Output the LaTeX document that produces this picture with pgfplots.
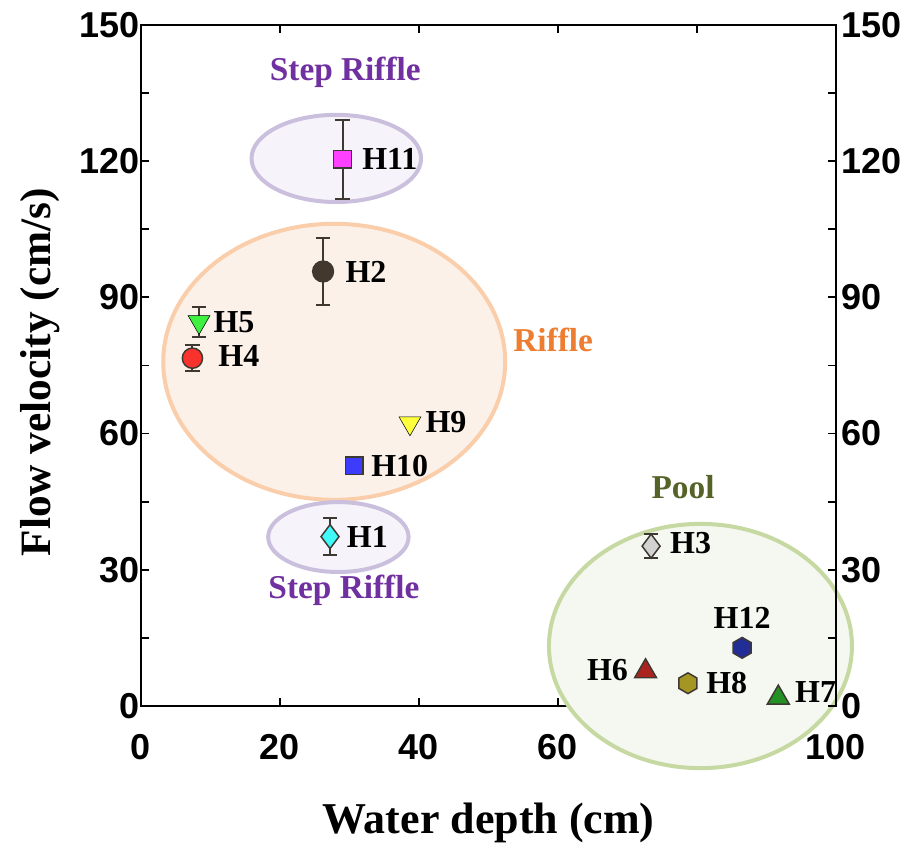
\documentclass[border=0pt]{standalone}
\usepackage{pgfplots}
\pgfplotsset{compat=1.18}
\usepackage{fontspec}
\setmainfont{Liberation Serif}
\newfontfamily\sansf{Liberation Sans}
\definecolor{sfill}{RGB}{246,244,250}
\definecolor{sdraw}{RGB}{202,192,222}
\definecolor{rfill}{RGB}{252,241,232}
\definecolor{rdraw}{RGB}{250,206,170}
\definecolor{pfill}{RGB}{245,248,240}
\definecolor{pdraw}{RGB}{198,217,162}
\definecolor{ptxt}{RGB}{112,48,160}
\definecolor{otxt}{RGB}{237,125,49}
\definecolor{gtxt}{RGB}{84,100,40}
\definecolor{edge}{RGB}{62,56,50}
\definecolor{cH11}{RGB}{255,64,255}
\definecolor{cH2}{RGB}{66,56,46}
\definecolor{cH5}{RGB}{64,240,64}
\definecolor{cH4}{RGB}{250,50,45}
\definecolor{cH9}{RGB}{255,255,60}
\definecolor{cH10}{RGB}{60,60,250}
\definecolor{cH1}{RGB}{64,250,250}
\definecolor{cH3}{RGB}{210,210,210}
\definecolor{cH12}{RGB}{35,45,150}
\definecolor{cH6}{RGB}{170,35,30}
\definecolor{cH8}{RGB}{165,150,35}
\definecolor{cH7}{RGB}{35,145,35}
\pgfdeclareplotmark{hexagon}{%
  \pgfpathmoveto{\pgfqpointpolar{90}{\pgfplotmarksize}}%
  \pgfpathlineto{\pgfqpointpolar{150}{\pgfplotmarksize}}%
  \pgfpathlineto{\pgfqpointpolar{210}{\pgfplotmarksize}}%
  \pgfpathlineto{\pgfqpointpolar{270}{\pgfplotmarksize}}%
  \pgfpathlineto{\pgfqpointpolar{330}{\pgfplotmarksize}}%
  \pgfpathlineto{\pgfqpointpolar{30}{\pgfplotmarksize}}%
  \pgfpathclose\pgfusepathqfillstroke}
\tikzset{lab/.style={font=\bfseries\fontsize{24}{24}\selectfont, inner sep=0pt},
  reg/.style={font=\bfseries\fontsize{25}{25}\selectfont, inner sep=0pt}}
\begin{document}
\begin{tikzpicture}
\pgfplotsset{
  common/.style={
    scale only axis, width=521.25pt, height=510.75pt,
    xmin=0, xmax=100, ymin=0, ymax=150,
    ytick={0,30,...,150}, minor y tick num=1,
    tick align=inside, major tick length=6pt, minor tick length=6pt,
    every tick/.style={line width=1.4pt, black},
    axis line style={line width=1.9pt},
    /pgf/number format/assume math mode=true,
    tick label style={font=\sansf\bfseries\fontsize{27}{27}\selectfont},
  },
  pt/.style={only marks, mark options={draw=edge, line width=1.1pt},
    error bars/y dir=both, error bars/y explicit,
    error bars/error bar style={line width=1.5pt, edge},
    error bars/error mark options={rotate=90, mark size=5.3pt, line width=1.5pt, edge}},
}
\begin{axis}[common, clip=false,
  xtick={0,20,...,100}, xtick pos=both, ytick pos=both,
  yticklabel pos=left,
  xticklabel style={yshift=-18pt},
  yticklabel style={inner xsep=1pt},
  xlabel={Water depth (cm)},
  ylabel={Flow velocity (cm/s)},
  xlabel style={at={(axis description cs:0.5,-0.187)}, anchor=base,
    font=\bfseries\fontsize{33}{33}\selectfont},
  ylabel style={at={(axis description cs:-0.145,0.49)}, anchor=center,
    font=\bfseries\fontsize{32.5}{32.5}\selectfont},
]
% ellipses
\filldraw[fill=sfill, draw=sdraw, line width=3pt] (axis cs:28.1,120.6) ellipse [x radius=12.2, y radius=9.6];
\filldraw[fill=rfill, draw=rdraw, line width=3pt] (axis cs:27.8,75.8) ellipse [x radius=24.6, y radius=30.4];
\filldraw[fill=sfill, draw=sdraw, line width=3pt] (axis cs:28.4,37.2) ellipse [x radius=10.1, y radius=7.7];
\filldraw[fill=pfill, draw=pdraw, line width=3pt] (axis cs:80.5,13.2) ellipse [x radius=21.8, y radius=26.9];
% points
\addplot[pt, mark=square*, mark size=6.6pt, fill=cH11] coordinates {(29.0,120.4) +- (0,8.7)};
\addplot[pt, mark=*, mark size=7.8pt, fill=cH2] coordinates {(26.2,95.7) +- (0,7.4)};
\addplot[pt, mark=triangle*, mark size=9.5pt, fill=cH5, mark options={rotate=180}] coordinates {(8.35,84.6) +- (0,3.3)};
\addplot[pt, mark=*, mark size=7.6pt, fill=cH4] coordinates {(7.4,76.6) +- (0,2.8)};
\addplot[pt, mark=triangle*, mark size=9.5pt, fill=cH9, mark options={rotate=180}] coordinates {(38.7,62.3) +- (0,0)};
\addplot[pt, mark=square*, mark size=6.6pt, fill=cH10] coordinates {(30.7,52.9) +- (0,0)};
\addplot[pt, mark=diamond*, mark size=9pt, fill=cH1] coordinates {(27.2,37.3) +- (0,4.0)};
\addplot[pt, mark=diamond*, mark size=9pt, fill=cH3] coordinates {(73.4,35.2) +- (0,2.7)};
\addplot[pt, mark=hexagon, mark size=7.8pt, fill=cH12] coordinates {(86.5,12.8) +- (0,0)};
\addplot[pt, mark=triangle*, mark size=9.5pt, fill=cH6] coordinates {(72.6,7.6) +- (0,0)};
\addplot[pt, mark=hexagon, mark size=7.8pt, fill=cH8] coordinates {(78.7,5.0) +- (0,0)};
\addplot[pt, mark=triangle*, mark size=9.5pt, fill=cH7] coordinates {(91.7,1.8) +- (0,0)};
% labels
\node[lab, anchor=west] at (axis cs:31.8,120.4) {H11};
\node[lab, anchor=west] at (axis cs:29.4,95.7) {H2};
\node[lab, anchor=west] at (axis cs:10.4,84.6) {H5};
\node[lab, anchor=west] at (axis cs:11.1,77.1) {H4};
\node[lab, anchor=west] at (axis cs:40.9,62.6) {H9};
\node[lab, anchor=west] at (axis cs:33.1,52.9) {H10};
\node[lab, anchor=west] at (axis cs:29.6,37.2) {H1};
\node[lab, anchor=west] at (axis cs:76.1,35.9) {H3};
\node[lab] at (axis cs:86.5,19.4) {H12};
\node[lab, anchor=east] at (axis cs:70.1,7.9) {H6};
\node[lab, anchor=west] at (axis cs:81.3,5.1) {H8};
\node[lab, anchor=west] at (axis cs:94.1,3.1) {H7};
\node[reg, text=ptxt] at (axis cs:29.4,139.6) {Step Riffle};
\node[reg, text=ptxt] at (axis cs:29.2,25.5) {Step Riffle};
\node[reg, text=otxt] at (axis cs:59.3,80.6) {Riffle};
\node[reg, text=gtxt] at (axis cs:78,48.2) {Pool};
\coordinate (bbl) at (axis cs:-20.29,-30.4);
\coordinate (btr) at (axis cs:110.22,155.5);
\end{axis}
\begin{axis}[common, axis x line=none, axis y line*=right,
  yticklabel style={inner xsep=4pt}]
\end{axis}
\pgfresetboundingbox
\path (bbl) rectangle (btr);
\end{tikzpicture}
\end{document}
